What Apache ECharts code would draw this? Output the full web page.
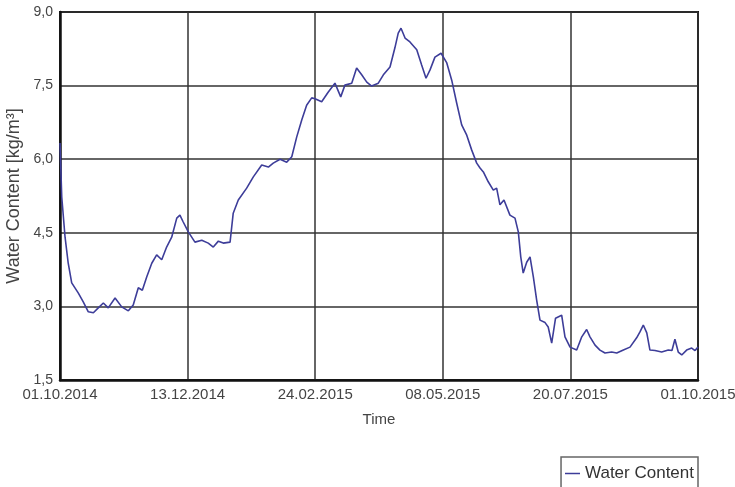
<!DOCTYPE html>
<html>
<head>
<meta charset="utf-8">
<script src="https://cdn.jsdelivr.net/npm/echarts@6/dist/echarts.min.js"></script>
<style>html,body{margin:0;padding:0;background:#fff}#c{width:735px;height:487px}</style>
</head>
<body>
<div id="c"></div>
<script>
// Day offsets from 01.10.2014
const days = [0,1.0,2.9,4.7,6.7,10.5,13.3,16.2,19.1,21.9,24.8,27.6,31.5,35.3,39.1,41.9,44.8,47.1,49.6,52.5,55.3,58.2,61.0,63.9,66.8,68.6,70.5,73.4,77.2,81.1,84.8,87.7,90.6,93.4,97.3,99.1,102.0,106.8,110.6,115.4,119.2,122.0,125.9,129.7,132.6,135.4,138.3,141.1,144.0,145.9,149.7,153.5,157.3,160.6,163.0,166.9,169.7,172.6,175.5,178.3,182.1,185.0,188.8,191.6,193.5,195.1,197.4,200.2,204.1,206.9,209.4,211.7,214.5,218.0,221.2,224.1,226.9,229.8,232.7,235.5,238.4,240.3,242.2,245.0,247.9,249.8,251.7,254.0,257.4,260.3,262.2,263.6,265.0,267.0,268.9,270.8,272.7,274.6,277.5,279.3,281.3,283.5,287.0,288.9,291.8,295.6,298.5,301.3,303.2,306.1,308.9,311.8,315.6,318.5,322.3,326.1,329.9,331.8,333.7,335.7,337.5,340.4,344.2,348.0,350.1,351.8,353.7,355.7,358.5,361.4,363.3,365];
const water = [6.33,5.23,4.41,3.88,3.48,3.27,3.09,2.89,2.87,2.97,3.07,2.97,3.17,2.99,2.91,3.03,3.38,3.33,3.60,3.88,4.05,3.95,4.21,4.41,4.80,4.86,4.72,4.52,4.31,4.35,4.29,4.21,4.33,4.29,4.31,4.90,5.17,5.41,5.64,5.88,5.84,5.92,6.00,5.94,6.05,6.45,6.80,7.10,7.25,7.23,7.17,7.37,7.55,7.27,7.51,7.55,7.86,7.72,7.57,7.49,7.55,7.72,7.88,8.27,8.57,8.67,8.47,8.39,8.23,7.92,7.65,7.82,8.08,8.16,7.97,7.61,7.15,6.70,6.49,6.19,5.92,5.82,5.74,5.54,5.37,5.41,5.07,5.17,4.86,4.80,4.52,4.01,3.68,3.90,4.01,3.60,3.13,2.72,2.67,2.58,2.25,2.76,2.82,2.38,2.17,2.11,2.38,2.53,2.38,2.21,2.11,2.05,2.07,2.05,2.11,2.17,2.36,2.48,2.62,2.46,2.11,2.10,2.07,2.11,2.10,2.33,2.07,2.01,2.11,2.15,2.10,2.17];
const seriesName = 'Water Content';
const xName = 'Time';
const yName = 'Water Content [kg/m³]';
const startDate = Date.UTC(2014, 9, 1);

function fmtDate(d) {
  const t = new Date(startDate + Math.round(d) * 86400000);
  const dd = String(t.getUTCDate()).padStart(2, '0');
  const mm = String(t.getUTCMonth() + 1).padStart(2, '0');
  return dd + '.' + mm + '.' + t.getUTCFullYear();
}

const chart = echarts.init(document.getElementById('c'), null, {renderer: 'canvas'});
const font = 'Liberation Sans, Arial, sans-serif';
chart.setOption({
  backgroundColor: '#fff',
  animation: false,
  textStyle: {fontFamily: font},
  grid: {left: 60, right: 37, top: 12, bottom: 107, show: true, borderColor: '#111', borderWidth: 2, backgroundColor: 'transparent', containLabel: false, outerBoundsMode: 'none'},
  xAxis: {
    type: 'value', min: 0, max: 365, interval: 73,
    name: xName, nameLocation: 'middle', nameGap: 32,
    nameTextStyle: {fontSize: 15, color: '#444', fontFamily: font},
    axisLine: {show: true, lineStyle: {color: '#111', width: 2.5}},
    axisTick: {show: false},
    axisLabel: {margin: 7, fontSize: 15, color: '#444', fontFamily: font, formatter: v => fmtDate(v), showMinLabel: true, showMaxLabel: true},
    splitLine: {show: true, lineStyle: {color: '#333', width: 1.5}}
  },
  yAxis: {
    type: 'value', min: 1.5, max: 9, interval: 1.5,
    name: yName, nameLocation: 'middle', nameGap: 31, nameRotate: 90,
    nameTextStyle: {fontSize: 18, color: '#444', fontFamily: font},
    axisLine: {show: true, lineStyle: {color: '#111', width: 2.5}},
    axisTick: {show: false},
    axisLabel: {margin: 7, fontSize: 14, color: '#444', fontFamily: font, formatter: v => v.toFixed(1).replace('.', ',')},
    splitLine: {show: true, lineStyle: {color: '#333', width: 1.5}}
  },
  legend: {
    data: [seriesName], right: 37, top: 457,
    orient: 'horizontal',
    borderColor: '#666', borderWidth: 1.5, padding: [8, 4, 20, 4],
    icon: 'rect', itemWidth: 15, itemHeight: 1.5,
    textStyle: {fontSize: 17, color: '#333', fontFamily: font}
  },
  series: [{
    name: seriesName, type: 'line', showSymbol: false, symbol: 'none',
    data: days.map((d, i) => [d, water[i]]),
    lineStyle: {color: '#3d3d99', width: 1.6},
    itemStyle: {color: '#3d3d99'}
  }]
});
</script>
</body>
</html>
